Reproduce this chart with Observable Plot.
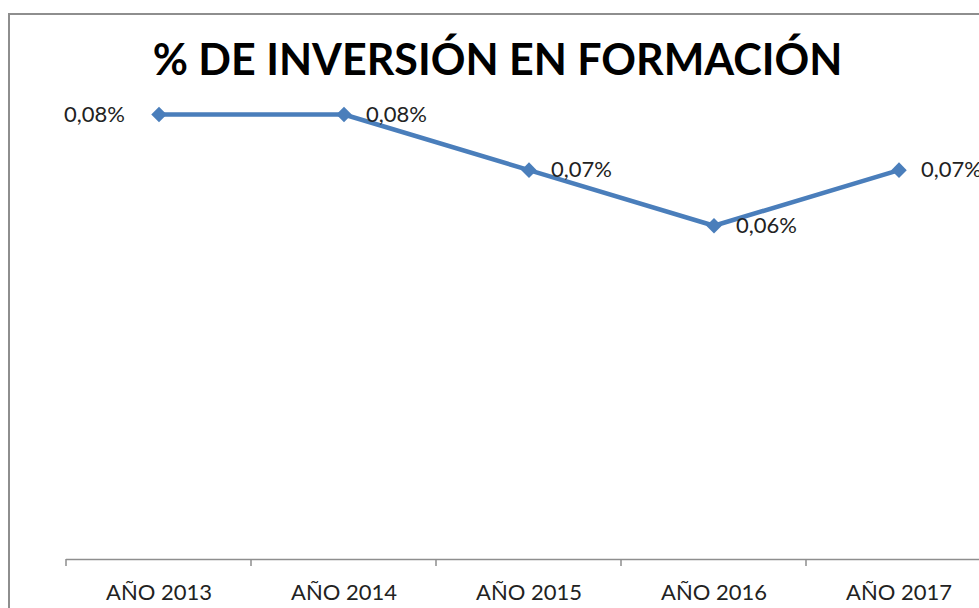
<!DOCTYPE html>
<html>
<head>
<meta charset="utf-8">
<script src="https://cdn.jsdelivr.net/npm/d3@7"></script>
<script src="https://cdn.jsdelivr.net/npm/@observablehq/plot@0.6"></script>
<style>
  html, body { margin: 0; padding: 0; background: #fff; }
  #wrap { position: relative; width: 979px; height: 608px; overflow: hidden; }
  #frame { position: absolute; left: 8px; top: 13px; width: 1200px; height: 800px; border: 2px solid #8e8e8e; box-sizing: border-box; pointer-events: none; }
  #title { position: relative; height: 96px; box-sizing: border-box; padding-top: 37px; padding-left: 16px;
           text-align: center; font-family: Lato, "DejaVu Sans", sans-serif; font-weight: bold; font-size: 43px; line-height: 43px; color: #000; white-space: nowrap; }
  #chart { position: relative; }
  #chart svg { display: block; }
</style>
</head>
<body>
<div id="wrap">
  <div id="frame"></div>
  <div id="title">% DE INVERSIÓN EN FORMACIÓN</div>
  <div id="chart"></div>
</div>
<script>
const years = ["AÑO 2013", "AÑO 2014", "AÑO 2015", "AÑO 2016", "AÑO 2017"];
const values = [0.08, 0.08, 0.07, 0.06, 0.07];
const data = years.map((year, i) => ({year, value: values[i]}));
const fmt = v => v.toFixed(2).replace(".", ",") + "%";
const lineColor = "#4a7ebb";

const plot = Plot.plot({
  width: 979,
  height: 512,
  marginLeft: 66,
  marginRight: 0,
  marginTop: 18,
  marginBottom: 49,
  style: {fontFamily: "Lato, 'DejaVu Sans', sans-serif", fontSize: "22px", color: "#222", background: "transparent", overflow: "visible"},
  x: {type: "band", domain: years, range: [66, 991], padding: 0, label: null},
  y: {domain: [0, 0.08], axis: null},
  marks: [
    Plot.axisX({tickSize: 0, tickPadding: 25, fontSize: 22, label: null}),
    Plot.ruleY([0], {stroke: "#8e8e8e", strokeWidth: 1.5}),
    Plot.line(data, {x: "year", y: "value", stroke: lineColor, strokeWidth: 4.5}),
    Plot.dot(data, {x: "year", y: "value", symbol: "diamond2", r: 7, fill: lineColor, stroke: "none"}),
    Plot.text(data.slice(0, 1), {x: "year", y: "value", text: d => fmt(d.value), textAnchor: "end", dx: -34, fontSize: 22, fill: "#222"}),
    Plot.text(data.slice(1), {x: "year", y: "value", text: d => fmt(d.value), textAnchor: "start", dx: 22, fontSize: 22, fill: "#222"})
  ]
});
document.getElementById("chart").appendChild(plot);

// Category boundary tick marks (Excel-style) from the plot's own scales
const xs = plot.scale("x"), ys = plot.scale("y");
const [r0, r1] = xs.range;
const n = xs.domain.length;
const y0 = ys.apply(0);
const svg = d3.select(plot);
for (let i = 0; i <= n; i++) {
  const x = r0 + i * (r1 - r0) / n;
  svg.append("line").attr("x1", x).attr("x2", x).attr("y1", y0).attr("y2", y0 + 7)
    .attr("stroke", "#8e8e8e").attr("stroke-width", 1.5);
}
</script>
</body>
</html>
